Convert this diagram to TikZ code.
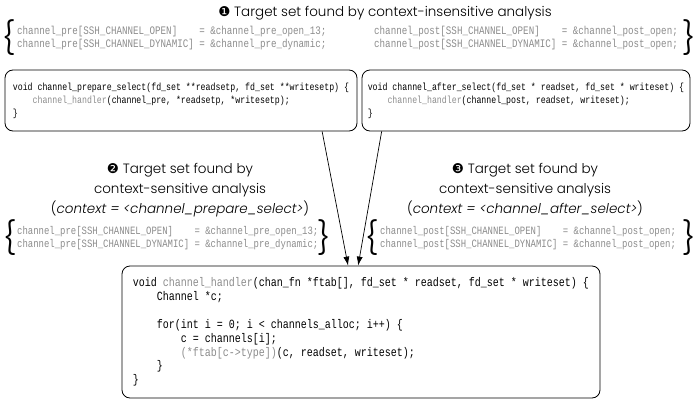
\documentclass[tikz,border=0pt]{standalone}
\usepackage{fontspec}
\setmainfont{Poppins Light}
\newfontfamily\codefont[FakeStretch=0.8]{Liberation Mono}
\newfontfamily\dingfont{DejaVu Sans}
\usetikzlibrary{arrows.meta,calc}

\definecolor{codegray}{gray}{0.55}
\newcommand{\gr}[1]{\textcolor{codegray}{#1}}
\newcommand{\num}[1]{{\dingfont #1}}

\tikzset{
  codebox/.style={draw, rounded corners=8pt, line width=0.8pt, align=left, inner sep=0pt},
  settext/.style={align=left, text=codegray, inner sep=0pt, anchor=west,
    font=\codefont\fontsize{11.5}{12.5}\selectfont},
  titletext/.style={align=center, inner sep=0pt, font=\fontsize{13.5}{20}\selectfont},
  bracenode/.style={inner sep=0pt, font=\fontsize{32}{32}\selectfont},
  flow/.style={-{Latex[length=9pt,width=6pt]}, line width=0.7pt},
}

\begin{document}
\begin{tikzpicture}[x=1pt,y=-1pt]
    \useasboundingbox (0,0) rectangle (696,407);

    % Context-insensitive target set
    \node[titletext] (title1) at (385,13) {\num{❶} Target set found by context-insensitive analysis};
    \node[bracenode] (brace1l) at (9,38) {\{};
    \node[bracenode] (brace1r) at (689,38) {\}};
    \node[settext] (set1pre) at (17,38) {channel\_pre[SSH\_CHANNEL\_OPEN]~~~~= \&channel\_pre\_open\_13;\\channel\_pre[SSH\_CHANNEL\_DYNAMIC] = \&channel\_pre\_dynamic;};
    \node[settext] (set1post) at (374,38) {channel\_post[SSH\_CHANNEL\_OPEN]~~~~= \&channel\_post\_open;\\channel\_post[SSH\_CHANNEL\_DYNAMIC] = \&channel\_post\_open;};

    % Callers
    \node[codebox, minimum width=352, minimum height=61, font=\codefont\fontsize{10.3}{13}\selectfont] (prep) at (181,100.5)
      {void channel\_prepare\_select(fd\_set **readsetp, fd\_set **writesetp) \{\\~~~~\gr{channel\_handler}(channel\_pre, *readsetp, *writesetp);\\\}};
    \node[codebox, minimum width=328, minimum height=61, font=\codefont\fontsize{10.3}{13}\selectfont] (after) at (526,100.5)
      {void channel\_after\_select(fd\_set * readset, fd\_set * writeset) \{\\~~~~\gr{channel\_handler}(channel\_post, readset, writeset);\\\}};

    % Context-sensitive target sets
    \node[titletext] (title2) at (180,190) {\num{❷} Target set found by\\context-sensitive analysis\\(\textit{context = <channel\_prepare\_select>})};
    \node[bracenode] (brace2l) at (10,238) {\{};
    \node[bracenode] (brace2r) at (324,238) {\}};
    \node[settext, font=\codefont\fontsize{11.2}{12.5}\selectfont] (set2) at (17,238) {channel\_pre[SSH\_CHANNEL\_OPEN]~~~~= \&channel\_pre\_open\_13;\\channel\_pre[SSH\_CHANNEL\_DYNAMIC] = \&channel\_pre\_dynamic;};

    \node[titletext] (title3) at (525,190) {\num{❸} Target set found by\\context-sensitive analysis\\(\textit{context = <channel\_after\_select>})};
    \node[bracenode] (brace3l) at (372,238) {\{};
    \node[bracenode] (brace3r) at (689,238) {\}};
    \node[settext, font=\codefont\fontsize{11.2}{12.5}\selectfont] (set3) at (380,238) {channel\_post[SSH\_CHANNEL\_OPEN]~~~~= \&channel\_post\_open;\\channel\_post[SSH\_CHANNEL\_DYNAMIC] = \&channel\_post\_open;};

    % Callee
    \node[codebox, minimum width=478, minimum height=132, font=\codefont\fontsize{12.5}{13.9}\selectfont] (handler) at (361,332)
      {void \gr{channel\_handler}(chan\_fn *ftab[], fd\_set * readset, fd\_set * writeset) \{\\
       ~~~~Channel *c;\\
       ~\\
       ~~~~for(int i = 0; i < channels\_alloc; i++) \{\\
       ~~~~~~~~c = channels[i];\\
       ~~~~~~~~\gr{(*ftab[c->type])}(c, readset, writeset);\\
       ~~~~\}\\
       \}};

    % Calls
    \draw[flow] ($(prep.south west)!0.9!(prep.south east)$) -- ($(handler.north west)!0.473!(handler.north east)$);
    \draw[flow] ($(after.south west)!0.061!(after.south east)$) -- ($(handler.north west)!0.494!(handler.north east)$);
\end{tikzpicture}
\end{document}
